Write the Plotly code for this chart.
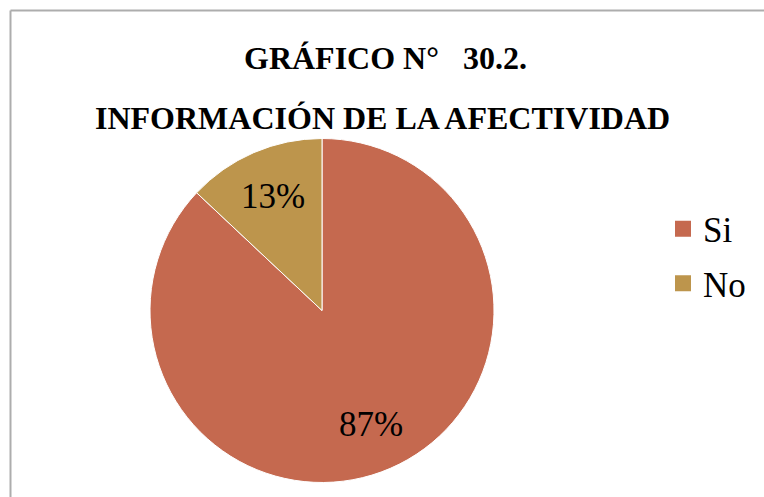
import math
import plotly.graph_objects as go

categories = ["Si", "No"]
values = [87, 13]
colors = ["#C5694F", "#BD954C"]
title_line1 = "GRÁFICO N°   30.2."
title_line2 = "INFORMACIÓN DE LA AFECTIVIDAD"

W, H = 764, 497
FONT = "Liberation Serif"

# pie geometry (pixels)
px0, px1, py0, py1 = 150, 494, 138, 483
cx, cy = (px0 + px1) / 2, (py0 + py1) / 2
R = (px1 - px0) / 2

fig = go.Figure()
fig.add_trace(go.Pie(
    labels=categories, values=values, sort=False, direction="clockwise", rotation=0,
    marker=dict(colors=colors, line=dict(color="white", width=1)),
    textinfo="none",
    showlegend=False,
    domain=dict(x=[px0 / W, px1 / W], y=[1 - py1 / H, 1 - py0 / H]),
    hoverinfo="label+percent",
))
for c, col in zip(categories, colors):
    fig.add_trace(go.Scatter(
        x=[None], y=[None], mode="markers", name=c, legendgroup=c,
        marker=dict(symbol="square", size=18, color=col),
        showlegend=True,
    ))

# percentage labels placed along slice mid-angles (computed from the data)
total = sum(values)
annotations = []
start = 0.0
for v in values:
    mid = (start + v / 2) / total * 2 * math.pi
    start += v
    frac = 0.72
    lx = cx + math.sin(mid) * R * frac
    ly = cy - math.cos(mid) * R * frac
    annotations.append(dict(
        text=f"{round(100 * v / total)}%", x=lx / W, y=1 - ly / H, xref="paper", yref="paper",
        showarrow=False, font=dict(family=FONT, size=35, color="black"),
        xanchor="center", yanchor="middle"))

annotations += [
    dict(text="<b>" + title_line1 + "</b>", x=385 / W, y=1 - 58 / H, xref="paper", yref="paper",
         showarrow=False, font=dict(family=FONT, size=32, color="black"),
         xanchor="center", yanchor="middle"),
    dict(text="<b>" + title_line2 + "</b>", x=382 / W, y=1 - 118 / H, xref="paper", yref="paper",
         showarrow=False, font=dict(family=FONT, size=32, color="black"),
         xanchor="center", yanchor="middle"),
]

fig.update_layout(
    width=W, height=H, margin=dict(l=0, r=0, t=0, b=0),
    paper_bgcolor="white", plot_bgcolor="white",
    xaxis=dict(visible=False), yaxis=dict(visible=False),
    legend=dict(x=663 / W, y=1 - 256 / H, xanchor="left", yanchor="middle",
                font=dict(family=FONT, size=35, color="black"),
                traceorder="grouped", tracegroupgap=6, bgcolor="rgba(0,0,0,0)"),
    annotations=annotations,
    shapes=[
        dict(type="line", xref="paper", yref="paper", x0=10.5 / W, x1=1.05, y0=1 - 10.5 / H, y1=1 - 10.5 / H,
             line=dict(color="#ADADAD", width=2)),
        dict(type="line", xref="paper", yref="paper", x0=10.5 / W, x1=10.5 / W, y0=1 - 10.5 / H, y1=-0.05,
             line=dict(color="#ADADAD", width=2)),
    ],
)

fig.write_html("out.html", config={"displayModeBar": False},
               post_script="document.body.style.margin='0';document.body.style.padding='0';")
